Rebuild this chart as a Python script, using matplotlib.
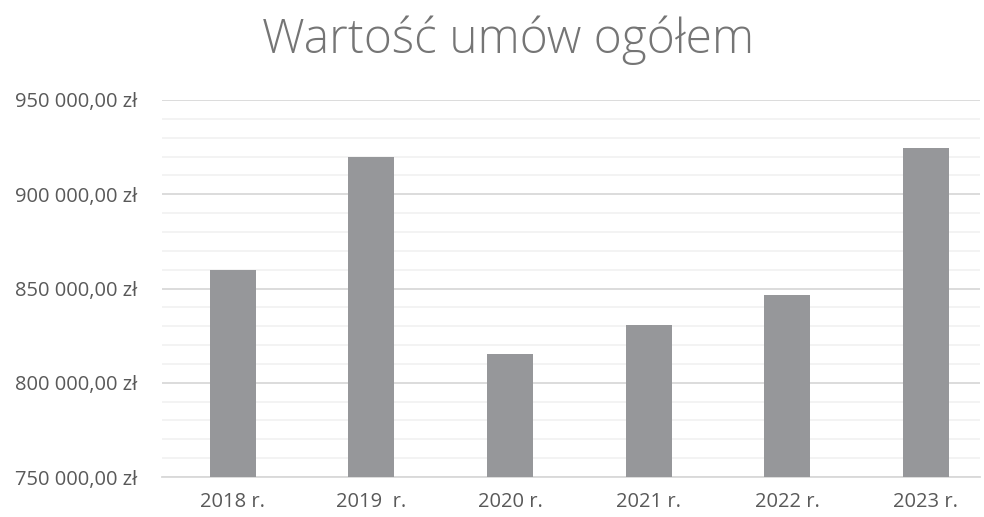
import matplotlib
matplotlib.use('Agg')
import matplotlib.pyplot as plt
from matplotlib.ticker import MultipleLocator, FuncFormatter

plt.rcParams['font.family'] = ['Open Sans', 'DejaVu Sans']

years = ['2018 r.', '2019  r.', '2020 r.', '2021 r.', '2022 r.', '2023 r.']
values = [860000, 920000, 815000, 830500, 846500, 924500]

BAR = '#96979a'
TXT = '#595959'

fig = plt.figure(figsize=(9.84, 5.17), dpi=100)
ax = fig.add_axes([162/984, 1 - 477/517, (980-162)/984, (477-100)/517])

x = list(range(len(years)))
ax.bar(x, values, width=0.33, color=BAR, zorder=3)

ax.set_ylim(750000, 950000)
ax.set_xlim(-0.51, 5.39)
ax.yaxis.set_major_locator(MultipleLocator(50000))
ax.yaxis.set_minor_locator(MultipleLocator(10000))

def fmt(v, pos):
    s = '{:,.2f}'.format(v).replace(',', ' ').replace('.', ',')
    return s + ' zł'
ax.yaxis.set_major_formatter(FuncFormatter(fmt))

ax.grid(axis='y', which='major', color='#d9d9d9', linewidth=1.3, zorder=0)
ax.grid(axis='y', which='minor', color='#f2f2f2', linewidth=1.3, zorder=0)

for s in ['top', 'right', 'left']:
    ax.spines[s].set_visible(False)
ax.spines['bottom'].set_color('#d9d9d9')
ax.spines['bottom'].set_linewidth(1.3)

ax.set_xticks(x)
ax.set_xticklabels(years)
ax.tick_params(axis='both', which='both', length=0, colors=TXT, labelsize=14.5)
ax.tick_params(axis='y', pad=18)
ax.tick_params(axis='x', pad=11)

fig.text(0.516, 0.922, 'Wartość umów ogółem', ha='center', va='center',
         fontsize=34.5, color='#757575', fontweight='light')

fig.savefig('out.png', dpi=100)
